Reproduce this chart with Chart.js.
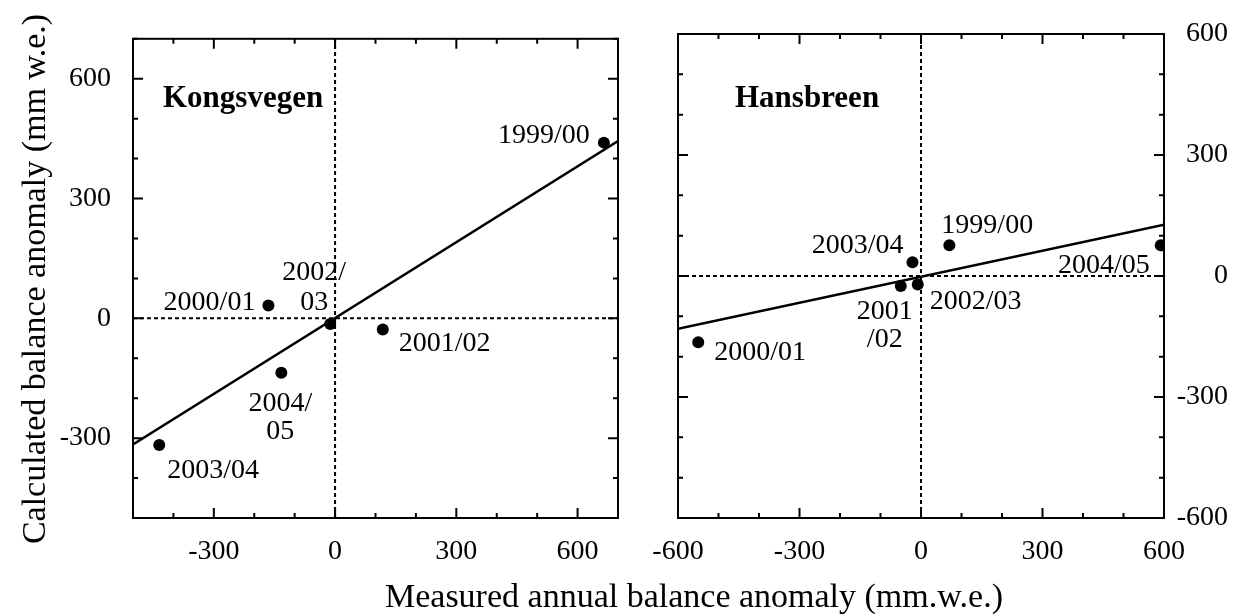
<!DOCTYPE html>
<html><head><meta charset="utf-8">
<script src="https://cdn.jsdelivr.net/npm/chart.js@4.4.1/dist/chart.umd.min.js"></script>
<style>
html,body{margin:0;padding:0;background:#fff;}
#wrap{position:relative;width:1237px;height:616px;}
canvas{position:absolute;left:0;top:0;}
</style></head><body>
<div id="wrap"><canvas id="c1" width="1237" height="616"></canvas><canvas id="c2" width="1237" height="616"></canvas></div>
<script>
// ---------- data ----------
const kvYears = ['1999/00', '2000/01', '2002/\n03', '2001/02', '2004/\n05', '2003/04'];
const kvMeasured = [665, -165, -12, 118, -133, -435];
const kvCalculated = [440, 32, -14, -28, -136, -317];
const kvFitX = [-500, 700];
const kvFitY = [-316, 444];
const kvXRange = [-500, 700];
const kvYRange = [-500, 700];

const hbYears = ['1999/00', '2000/01', '2001\n/02', '2002/03', '2003/04', '2004/05'];
const hbMeasured = [70, -550, -50, -8, -21, 592];
const hbCalculated = [76, -164, -25, -21, 34, 76];
const hbFitX = [-600, 600];
const hbFitY = [-131, 127];
const hbXRange = [-600, 600];
const hbYRange = [-600, 600];

const tickStep = 100;
const labelStep = 300;

// ---------- layout of labels (pixel offsets from each point) ----------
const kvLabelPlace = [
  {align:'right', dx:-14, dy:0},
  {align:'right', dx:-13, dy:4},
  {align:'center', dx:-16, dy:-44, gap:30},
  {align:'left', dx:16, dy:21},
  {align:'center', dx:-1, dy:38, gap:28},
  {align:'left', dx:8, dy:33}
];
const hbLabelPlace = [
  {align:'left', dx:-8, dy:-12},
  {align:'left', dx:16, dy:18},
  {align:'center', dx:-16, dy:33, gap:28},
  {align:'left', dx:12, dy:25},
  {align:'right', dx:-9, dy:-9},
  {align:'right', dx:-11, dy:28}
];

const FONT = "'Liberation Serif', 'Times New Roman', serif";
const BLACK = '#000';

function pts(xs, ys) { return xs.map((x, i) => ({x: x, y: ys[i]})); }

const framePlugin = {
  id: 'frame',
  afterDatasetsDraw(chart) {
    const ctx = chart.ctx, a = chart.chartArea;
    const xs = chart.scales.x, ys = chart.scales.y;
    ctx.save();
    ctx.strokeStyle = BLACK;
    ctx.lineWidth = 2;
    ctx.strokeRect(a.left, a.top, a.right - a.left, a.bottom - a.top);
    ctx.beginPath();
    xs.ticks.forEach(t => {
      const p = xs.getPixelForValue(t.value);
      const len = (t.value % labelStep === 0) ? 10 : 5;
      ctx.moveTo(p, a.bottom); ctx.lineTo(p, a.bottom - len);
      ctx.moveTo(p, a.top); ctx.lineTo(p, a.top + len);
    });
    ys.ticks.forEach(t => {
      const p = ys.getPixelForValue(t.value);
      const len = (t.value % labelStep === 0) ? 10 : 5;
      ctx.moveTo(a.left, p); ctx.lineTo(a.left + len, p);
      ctx.moveTo(a.right, p); ctx.lineTo(a.right - len, p);
    });
    ctx.stroke();
    ctx.restore();
  }
};

const pointLabelPlugin = {
  id: 'pointLabels',
  afterDatasetsDraw(chart, args, opts) {
    const ctx = chart.ctx;
    const meta = chart.getDatasetMeta(opts.datasetIndex);
    ctx.save();
    ctx.fillStyle = BLACK;
    ctx.font = '28px ' + FONT;
    ctx.textBaseline = 'alphabetic';
    opts.labels.forEach((txt, i) => {
      const el = meta.data[i];
      const pl = opts.place[i];
      ctx.textAlign = pl.align;
      txt.split('\n').forEach((line, k) => {
        ctx.fillText(line, el.x + pl.dx, el.y + pl.dy + k * (pl.gap || 28));
      });
    });
    // panel name
    ctx.font = 'bold 31px ' + FONT;
    ctx.textAlign = 'left';
    ctx.fillText(opts.name, chart.chartArea.left + opts.nameDx, chart.chartArea.top + opts.nameDy);
    ctx.restore();
  }
};

const titlePlugin = {
  id: 'axisTitles',
  afterDraw(chart, args, opts) {
    if (!opts.show) return;
    const ctx = chart.ctx;
    ctx.save();
    ctx.fillStyle = BLACK;
    ctx.font = '34px ' + FONT;
    ctx.textAlign = 'center';
    ctx.textBaseline = 'alphabetic';
    ctx.fillText(opts.xTitle, 694, 607);
    ctx.translate(45, 279);
    ctx.rotate(-Math.PI / 2);
    ctx.fillText(opts.yTitle, 0, 0);
    ctx.restore();
  }
};

function tickCb(v) { return (v % labelStep === 0) ? String(v) : ''; }

function buildChart(canvasId, cfg) {
  return new Chart(document.getElementById(canvasId), {
    type: 'scatter',
    data: {
      datasets: [
        {data: pts([cfg.xr[0], cfg.xr[1]], [0, 0]), showLine: true, borderColor: BLACK, borderWidth: 2, borderDash: [4, 3], pointRadius: 0, order: 3},
        {data: pts([0, 0], [cfg.yr[0], cfg.yr[1]]), showLine: true, borderColor: BLACK, borderWidth: 2, borderDash: [4, 3], pointRadius: 0, order: 3},
        {data: pts(cfg.fitX, cfg.fitY), showLine: true, borderColor: BLACK, borderWidth: 2.5, pointRadius: 0, order: 2},
        {data: pts(cfg.xs, cfg.ys), showLine: false, pointRadius: 6, pointBackgroundColor: BLACK, pointBorderColor: BLACK, pointBorderWidth: 0, order: 1}
      ]
    },
    options: {
      responsive: false,
      animation: false,
      devicePixelRatio: 1,
      layout: {padding: cfg.padding},
      plugins: {
        legend: {display: false},
        tooltip: {enabled: false},
        pointLabels: {datasetIndex: 3, labels: cfg.labels, place: cfg.place, name: cfg.name, nameDx: cfg.nameDx, nameDy: cfg.nameDy},
        axisTitles: {show: cfg.titles, xTitle: 'Measured annual balance anomaly (mm.w.e.)', yTitle: 'Calculated balance anomaly (mm w.e.)'}
      },
      scales: {
        x: {
          type: 'linear', position: 'bottom', min: cfg.xr[0], max: cfg.xr[1],
          grid: {display: false, drawTicks: false}, border: {display: false},
          ticks: {stepSize: tickStep, autoSkip: false, maxRotation: 0, callback: tickCb, color: BLACK, font: {family: FONT, size: 28}, padding: 17},
          afterFit: s => { s.height = 98; }
        },
        y: {
          type: 'linear', position: cfg.yPos, min: cfg.yr[0], max: cfg.yr[1],
          grid: {display: false, drawTicks: false}, border: {display: false},
          ticks: {stepSize: tickStep, autoSkip: false, callback: tickCb, color: BLACK, font: {family: FONT, size: 28}, padding: cfg.yPad, crossAlign: cfg.yAlign},
          afterFit: s => { s.width = cfg.yWidth; }
        }
      }
    },
    plugins: [framePlugin, pointLabelPlugin, titlePlugin]
  });
}

buildChart('c1', {
  xr: kvXRange, yr: kvYRange, fitX: kvFitX, fitY: kvFitY, xs: kvMeasured, ys: kvCalculated,
  labels: kvYears, place: kvLabelPlace, name: 'Kongsvegen', nameDx: 30, nameDy: 68,
  padding: {left: 0, top: 34, right: 619, bottom: 0},
  yPos: 'left', yWidth: 133, yPad: 22, yAlign: 'near', titles: false
});
buildChart('c2', {
  xr: hbXRange, yr: hbYRange, fitX: hbFitX, fitY: hbFitY, xs: hbMeasured, ys: hbCalculated,
  labels: hbYears, place: hbLabelPlace, name: 'Hansbreen', nameDx: 57, nameDy: 73,
  padding: {left: 678, top: 34, right: 9, bottom: 0},
  yPos: 'right', yWidth: 64, yPad: 12, yAlign: 'far', titles: true
});
</script>
</body></html>
